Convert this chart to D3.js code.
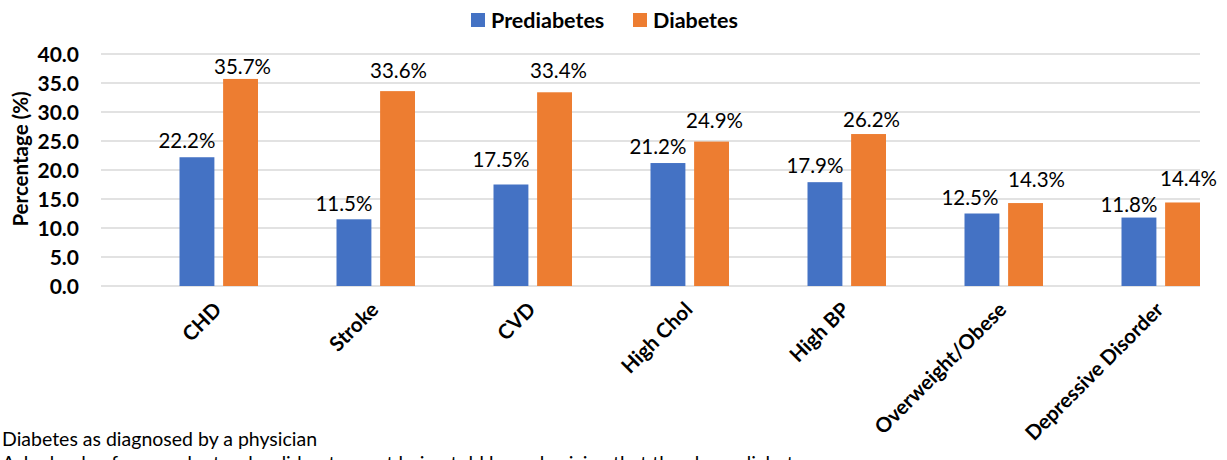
<!DOCTYPE html>
<html>
<head>
<meta charset="utf-8">
<script src="https://cdn.jsdelivr.net/npm/d3@7"></script>
<style>
  html, body { margin: 0; padding: 0; background: #fff; }
  svg { display: block; font-family: Lato, "Open Sans", sans-serif; }
</style>
</head>
<body>
<svg id="chart" width="1227" height="460"></svg>
<script>
// Conditions compared between respondents with prediabetes and diabetes
const categories = ["CHD", "Stroke", "CVD", "High Chol", "High BP", "Overweight/Obese", "Depressive Disorder"];
const seriesNames = ["Prediabetes", "Diabetes"];
const prediabetes = [22.2, 11.5, 17.5, 21.2, 17.9, 12.5, 11.8];
const diabetes = [35.7, 33.6, 33.4, 24.9, 26.2, 14.3, 14.4];
const yTicks = [0, 5, 10, 15, 20, 25, 30, 35, 40];
const colors = ["#4472C4", "#ED7D31"];
const footnotes = [
  "Diabetes as diagnosed by a physician",
  "Asked only of respondents who did not report being told by a physician that they have diabetes"
];

// Hand-placed data label nudges (dx from bar centre, gap above bar top), per series
const labelNudge = [
  [[-10, 9], [-10, 8], [-10, 18], [-10, 9], [-10, 9], [-12, 9], [-10, 6]],
  [[2, 5], [1, 13], [4, 14], [3, 14], [3, 7], [11, 16], [6, 16]]
];

const svg = d3.select("#chart");
const plot = { left: 101, right: 1200, top: 54, bottom: 286 };

const y = d3.scaleLinear().domain([0, 40]).range([plot.bottom, plot.top]);
const x0 = d3.scaleBand().domain(categories).range([plot.left, plot.right]).paddingInner(0).paddingOuter(0);
const bw = x0.bandwidth();
const x1 = d3.scaleBand().domain(seriesNames).range([bw * 0.5, bw]).paddingInner(0.2).paddingOuter(0);
const groupCenter = c => x0(c) + bw * 0.75;

// Horizontal gridlines
svg.append("g")
  .selectAll("line")
  .data(yTicks)
  .join("line")
  .attr("x1", plot.left).attr("x2", plot.right)
  .attr("y1", d => y(d)).attr("y2", d => y(d))
  .attr("stroke", "#d9d9d9").attr("stroke-width", 1.5);

// Y axis labels
const yAxis = d3.axisLeft(y).tickValues(yTicks).tickFormat(d3.format(".1f")).tickSize(0).tickPadding(0);
svg.append("g")
  .attr("transform", `translate(79,0)`)
  .call(yAxis)
  .call(g => g.select(".domain").remove())
  .call(g => g.selectAll("text")
    .attr("font-family", "Lato, sans-serif")
    .attr("font-size", 21).attr("font-weight", "bold").attr("fill", "#000")
    .attr("dy", "0.36em"));

// Y axis title
svg.append("text")
  .attr("transform", `translate(28,${(plot.top + plot.bottom) / 2 - 11}) rotate(-90)`)
  .attr("text-anchor", "middle")
  .attr("font-size", 20.5).attr("font-weight", "bold")
  .text("Percentage (%)");

// Bars
const rows = categories.map((c, i) => ({ c, i, vals: [prediabetes[i], diabetes[i]] }));
const groups = svg.append("g").selectAll("g")
  .data(rows)
  .join("g")
  .attr("transform", d => `translate(${x0(d.c)},0)`);

const cells = d => d.vals.map((v, k) => ({ s: seriesNames[k], v, k, i: d.i }));

groups.selectAll("rect")
  .data(cells)
  .join("rect")
  .attr("x", d => x1(d.s))
  .attr("width", x1.bandwidth())
  .attr("y", d => y(d.v))
  .attr("height", d => y(0) - y(d.v))
  .attr("fill", d => colors[d.k]);

// Value labels
groups.selectAll("text")
  .data(cells)
  .join("text")
  .attr("x", d => x1(d.s) + x1.bandwidth() / 2 + labelNudge[d.k][d.i][0])
  .attr("y", d => y(d.v) - labelNudge[d.k][d.i][1])
  .attr("text-anchor", "middle")
  .attr("font-size", 20.5)
  .attr("fill", "#000")
  .text(d => d3.format(".1f")(d.v) + "%");

// Category labels, rotated
svg.append("g").selectAll("text")
  .data(categories)
  .join("text")
  .attr("transform", c => `translate(${groupCenter(c) + 4},311) rotate(-45)`)
  .attr("text-anchor", "end")
  .attr("font-size", 20.5).attr("font-weight", "bold")
  .text(c => c);

// Legend
const legendItems = [{ name: seriesNames[0], x: 471, color: colors[0] }, { name: seriesNames[1], x: 633, color: colors[1] }];
const legend = svg.append("g").selectAll("g").data(legendItems).join("g")
  .attr("transform", d => `translate(${d.x},13)`);
legend.append("rect").attr("width", 14).attr("height", 14).attr("fill", d => d.color);
legend.append("text")
  .attr("x", 20).attr("y", 14.5)
  .attr("font-size", 21.5).attr("font-weight", "bold")
  .text(d => d.name);

// Footnotes
svg.append("g").selectAll("text")
  .data(footnotes)
  .join("text")
  .attr("x", 2)
  .attr("y", (d, i) => 446 + i * 24)
  .attr("font-size", 19.5)
  .text(d => d);
</script>
</body>
</html>
